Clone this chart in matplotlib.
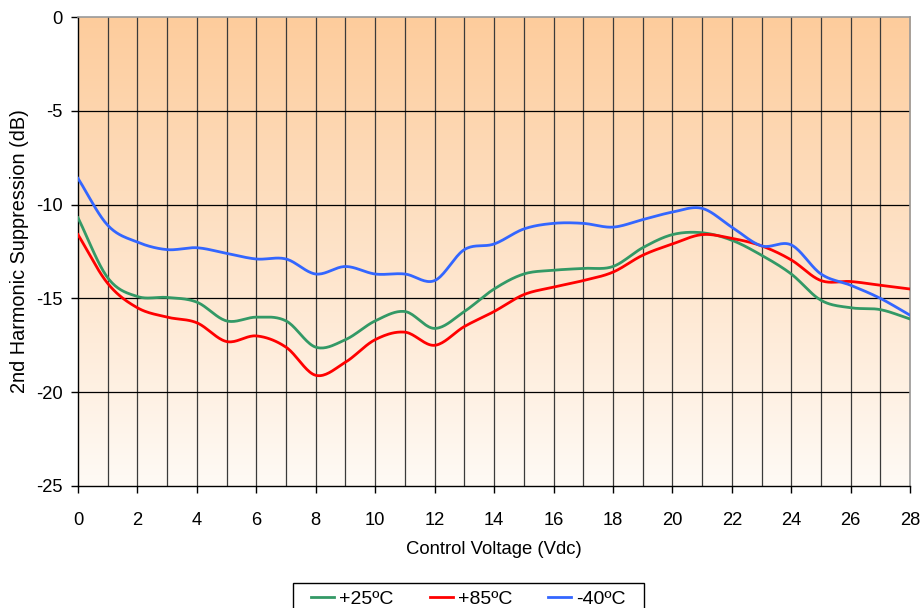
import numpy as np
import matplotlib
matplotlib.use("Agg")
import matplotlib.pyplot as plt
from matplotlib.colors import LinearSegmentedColormap
from matplotlib.patches import Rectangle

plt.rcParams['font.family'] = ['Liberation Sans', 'DejaVu Sans']
plt.rcParams['axes.unicode_minus'] = False

voltage = list(range(0, 29))
t25 = [-10.7, -13.9, -14.9, -14.95, -15.2, -16.2, -16.0, -16.2, -17.6, -17.2,
       -16.2, -15.7, -16.6, -15.7, -14.5, -13.7, -13.5, -13.4, -13.3, -12.3,
       -11.6, -11.5, -11.9, -12.7, -13.7, -15.1, -15.5, -15.6, -16.1]
t85 = [-11.6, -14.2, -15.5, -16.0, -16.3, -17.3, -17.0, -17.6, -19.1, -18.4,
       -17.2, -16.8, -17.5, -16.5, -15.7, -14.8, -14.4, -14.05, -13.6, -12.7,
       -12.1, -11.6, -11.8, -12.2, -12.95, -14.05, -14.1, -14.3, -14.5]
tm40 = [-8.6, -11.1, -12.0, -12.4, -12.3, -12.6, -12.9, -12.9, -13.7, -13.3,
        -13.7, -13.7, -14.05, -12.4, -12.1, -11.3, -11.0, -11.0, -11.2, -10.8,
        -10.4, -10.2, -11.2, -12.2, -12.15, -13.7, -14.3, -15.0, -15.9]
labels = ['+25ºC', '+85ºC', '-40ºC']
colors = ['#339966', '#FF0000', '#3366FF']


def smooth(x, y, n=20):
    # Catmull-Rom style smoothing (like spreadsheet smoothed lines)
    x = np.asarray(x, float)
    y = np.asarray(y, float)
    px = np.concatenate([[2 * x[0] - x[1]], x, [2 * x[-1] - x[-2]]])
    py = np.concatenate([[2 * y[0] - y[1]], y, [2 * y[-1] - y[-2]]])
    xs, ys = [], []
    t = np.linspace(0, 1, n, endpoint=False)
    for i in range(1, len(px) - 2):
        p0, p1, p2, p3 = py[i - 1], py[i], py[i + 1], py[i + 2]
        q0, q1, q2, q3 = px[i - 1], px[i], px[i + 1], px[i + 2]
        f = lambda a0, a1, a2, a3: 0.5 * ((2 * a1) + (-a0 + a2) * t +
                                        (2 * a0 - 5 * a1 + 4 * a2 - a3) * t ** 2 +
                                        (-a0 + 3 * a1 - 3 * a2 + a3) * t ** 3)
        xs.append(f(q0, q1, q2, q3))
        ys.append(f(p0, p1, p2, p3))
    xs.append([x[-1]])
    ys.append([y[-1]])
    return np.concatenate(xs), np.concatenate(ys)


fig = plt.figure(figsize=(9.24, 6.08), dpi=100)
ax = fig.add_axes([0.0844, 0.2007, 0.9006, 0.7713])

# gradient background
cmap = LinearSegmentedColormap.from_list('bg', ['#FFFAF5', '#FDCC9C'])
grad = np.linspace(0, 1, 256).reshape(-1, 1)
ax.imshow(grad, cmap=cmap, aspect='auto', extent=[0, 28, -25, 0],
          origin='lower', zorder=0)

# grid
for v in voltage[1:-1]:
    ax.axvline(v, color='#3a3a3a', lw=0.9, zorder=1)
for yv in [-20, -15, -10, -5]:
    ax.axhline(yv, color='black', lw=0.9, zorder=1)

for data, lab, c in zip([t25, t85, tm40], labels, colors):
    sx, sy = smooth(voltage, data)
    ax.plot(sx, sy, color=c, lw=2.0, label=lab, zorder=3)

ax.set_xlim(0, 28)
ax.set_ylim(-25, 0)
ax.set_xticks(range(0, 29, 2))
ax.set_yticks(range(-25, 1, 5))
ax.tick_params(axis='both', labelsize=13.2, direction='out', length=5, width=1, color='black')
ax.tick_params(axis='x', pad=13.5)
ax.tick_params(axis='y', pad=6)
for s in ['top', 'right']:
    ax.spines[s].set_color('#999999')
    ax.spines[s].set_linewidth(1.2)
for s in ['left', 'bottom']:
    ax.spines[s].set_color('black')
    ax.spines[s].set_linewidth(1.0)

ax.set_xlabel('Control Voltage (Vdc)', fontsize=13.3, labelpad=9)
ax.set_ylabel('2nd Harmonic Suppression (dB)', fontsize=14.3, labelpad=5)

leg = fig.legend(loc='upper center', bbox_to_anchor=(0.507, 0.045), ncol=3,
                 fontsize=14, frameon=False, handlelength=1.2,
                 handletextpad=0.25, columnspacing=1.85, borderpad=0.0)
for line in leg.get_lines():
    line.set_linewidth(2.0)

# legend frame with wider horizontal padding
fig.canvas.draw()
bb = leg.get_window_extent()
W, H = fig.bbox.width, fig.bbox.height
padx, pady = 18, 7
rect = Rectangle(((bb.x0 - padx) / W, (bb.y0 - pady) / H),
                 (bb.width + 2 * padx) / W, (bb.height + 2 * pady) / H,
                 transform=fig.transFigure, facecolor='white', edgecolor='black',
                 lw=1.0, zorder=0)
fig.patches.append(rect)

fig.savefig('out.png', dpi=100)
